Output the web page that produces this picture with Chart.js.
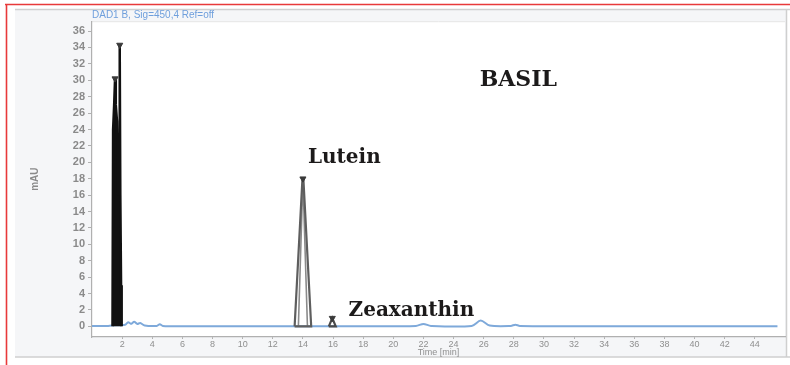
<!DOCTYPE html>
<html>
<head>
<meta charset="utf-8">
<script src="https://cdn.jsdelivr.net/npm/chart.js@4.4.1/dist/chart.umd.min.js"></script>
<style>
  html, body { margin: 0; padding: 0; background: #ffffff; }
  #wrap { width: 790px; height: 365px; }
</style>
</head>
<body>
<div id="wrap"><canvas id="chrom" width="790" height="365"></canvas></div>
<script>
// Detector signal (blue trace): retention time [min] and absorbance [mAU]
const signalTime = [0, 1.0, 1.3, 2.2, 2.4, 2.6, 2.8, 3.0, 3.2, 3.5, 4.3, 4.5, 4.7, 6, 10, 14, 18, 21.5, 22.0, 22.5, 25.2, 25.8, 26.4, 27.8, 28.1, 28.4, 35, 40, 45.5];
const signalMAU  = [0.05, 0.05, 0.1, 0.2, 0.5, 0.3, 0.55, 0.3, 0.4, 0.1, 0.05, 0.25, 0.05, 0, 0, 0, 0, 0.05, 0.3, 0.05, 0.05, 0.7, 0.1, 0.05, 0.2, 0.05, 0, 0, 0];

// Early-eluting (solvent front) peak cluster
const frontTime = [1.36, 1.40, 1.47, 1.53, 1.58, 1.66, 1.74, 1.80, 1.84, 1.88, 1.93, 1.97];
const frontMAU  = [0, 24, 27, 30.2, 27, 25, 16, 20, 34.3, 16, 5, 0];

// Lutein peak outline (outer and inner edge)
const luteinTime      = [13.45, 13.97, 14.03, 14.55, 13.45];
const luteinMAU       = [0, 18, 18, 0, 0];
const luteinInnerTime = [13.7, 14.0, 14.3];
const luteinInnerMAU  = [0, 18, 0];

// Zeaxanthin peak outline
const zeaTime = [15.72, 15.95, 16.18, 15.72];
const zeaMAU  = [0, 1.0, 0, 0];

// Apex markers of the integrated peaks
const apexTime = [1.53, 1.84, 14.0, 15.95];
const apexMAU  = [30.2, 34.3, 18, 1.0];

// Axis ticks
const xTicks = [2, 4, 6, 8, 10, 12, 14, 16, 18, 20, 22, 24, 26, 28, 30, 32, 34, 36, 38, 40, 42, 44];
const yTicks = [0, 2, 4, 6, 8, 10, 12, 14, 16, 18, 20, 22, 24, 26, 28, 30, 32, 34, 36];

// Text labels
const sampleName = 'BASIL';
const peakNames = ['Lutein', 'Zeaxanthin'];
const signalTitle = 'DAD1 B, Sig=450,4 Ref=off';

const pts = (xs, ys) => xs.map((x, i) => ({ x: x, y: ys[i] }));

// Label placement in data coordinates
const labels = [
  { text: sampleName,   x: 28.3,  y: 30.0, size: 22 },
  { text: peakNames[0], x: 16.75, y: 20.6, size: 20 },
  { text: peakNames[1], x: 21.2,  y: 1.95, size: 20 }
];

const framePlugin = {
  id: 'frame',
  beforeDraw(chart) {
    const { ctx, chartArea: a } = chart;
    ctx.save();
    ctx.fillStyle = '#ffffff';
    ctx.fillRect(0, 0, chart.width, chart.height);
    ctx.fillStyle = '#f5f6f8';
    ctx.fillRect(15, 10, 772, 347);
    ctx.fillStyle = '#ffffff';
    ctx.fillRect(a.left, a.top, a.right - a.left, a.bottom - a.top);
    // panel edges
    ctx.strokeStyle = '#cfcfcf';
    ctx.lineWidth = 1.5;
    ctx.beginPath();
    ctx.moveTo(15, 9.5); ctx.lineTo(790, 9.5);
    ctx.moveTo(786.5, 9.5); ctx.lineTo(786.5, 357);
    ctx.moveTo(15, 357); ctx.lineTo(790, 357);
    ctx.stroke();
    ctx.strokeStyle = '#e4e4e4';
    ctx.lineWidth = 1;
    ctx.beginPath();
    ctx.moveTo(a.left, a.top + 0.5); ctx.lineTo(a.right, a.top + 0.5);
    ctx.stroke();
    // red outer border
    ctx.strokeStyle = '#e8393a';
    ctx.lineWidth = 1.6;
    ctx.beginPath();
    ctx.moveTo(5, 4.5); ctx.lineTo(790, 4.5);
    ctx.moveTo(6.5, 4); ctx.lineTo(6.5, 365);
    ctx.stroke();
    ctx.restore();
  },
  afterDraw(chart) {
    const { ctx, scales: { x, y } } = chart;
    ctx.save();
    ctx.fillStyle = '#1c1a1a';
    ctx.textAlign = 'center';
    ctx.textBaseline = 'middle';
    labels.forEach(l => {
      ctx.font = 'bold ' + l.size + 'px "DejaVu Serif"';
      ctx.fillText(l.text, x.getPixelForValue(l.x), y.getPixelForValue(l.y));
    });
    ctx.restore();
  }
};

new Chart(document.getElementById('chrom'), {
  type: 'scatter',
  data: {
    datasets: [
      {
        data: pts(apexTime, apexMAU),
        showLine: false,
        pointStyle: 'triangle',
        rotation: 180,
        pointRadius: 3.5,
        pointBackgroundColor: '#3a3a3a',
        pointBorderColor: '#3a3a3a',
        order: 0
      },
      {
        data: pts(frontTime, frontMAU),
        showLine: true,
        borderColor: '#111111',
        backgroundColor: '#111111',
        borderWidth: 2.5,
        fill: 'origin',
        pointRadius: 0,
        tension: 0,
        order: 1
      },
      {
        data: pts(luteinTime, luteinMAU),
        showLine: true,
        borderColor: '#5e5e5e',
        borderWidth: 2.2,
        fill: false,
        pointRadius: 0,
        order: 1
      },
      {
        data: pts(luteinInnerTime, luteinInnerMAU),
        showLine: true,
        borderColor: '#8a8a8a',
        borderWidth: 1.6,
        fill: false,
        pointRadius: 0,
        order: 1
      },
      {
        data: pts(zeaTime, zeaMAU),
        showLine: true,
        borderColor: '#4a4a4a',
        borderWidth: 2.2,
        fill: false,
        pointRadius: 0,
        order: 1
      },
      {
        data: pts(signalTime, signalMAU),
        showLine: true,
        borderColor: '#7ea9da',
        borderWidth: 2,
        fill: false,
        pointRadius: 0,
        tension: 0.3,
        order: 3
      }
    ]
  },
  options: {
    responsive: false,
    animation: false,
    events: [],
    layout: { padding: { left: 28, right: 3, top: 9.2, bottom: 6 } },
    plugins: {
      legend: { display: false },
      tooltip: { enabled: false },
      title: {
        display: true,
        text: signalTitle,
        align: 'start',
        fullSize: false,
        color: '#6f9fdc',
        font: { family: 'Liberation Sans', size: 10, weight: 'normal' },
        padding: { top: 0, bottom: 0 }
      }
    },
    scales: {
      x: {
        type: 'linear',
        min: 0,
        max: 46,
        afterBuildTicks: s => { s.ticks = xTicks.map(v => ({ value: v })); },
        afterFit: s => { s.height = 22; },
        border: { display: true, color: '#b0b0b0', width: 1.2 },
        grid: { drawOnChartArea: false, drawTicks: true, tickLength: 2, color: '#b0b0b0' },
        ticks: { color: '#8f8f8f', font: { family: 'Liberation Sans', size: 9 }, padding: 0, maxRotation: 0, autoSkip: false },
        title: { display: true, text: 'Time [min]', color: '#8f8f8f', font: { family: 'Liberation Sans', size: 9 }, padding: { top: 0, bottom: 1 } }
      },
      y: {
        min: -1.3,
        max: 37.2,
        afterBuildTicks: s => { s.ticks = yTicks.map(v => ({ value: v })); },
        afterFit: s => { s.width = 64; },
        border: { display: true, color: '#b0b0b0', width: 1.2 },
        grid: { drawOnChartArea: false, drawTicks: true, tickLength: 4, color: '#b0b0b0' },
        ticks: { color: '#8a8a8a', font: { family: 'Liberation Sans', size: 11, weight: 'bold' }, padding: 3, autoSkip: false },
        title: { display: true, text: 'mAU', color: '#8a8a8a', font: { family: 'Liberation Sans', size: 10, weight: 'bold' }, padding: { top: 1, bottom: 0 } }
      }
    }
  },
  plugins: [framePlugin]
});
</script>
</body>
</html>
